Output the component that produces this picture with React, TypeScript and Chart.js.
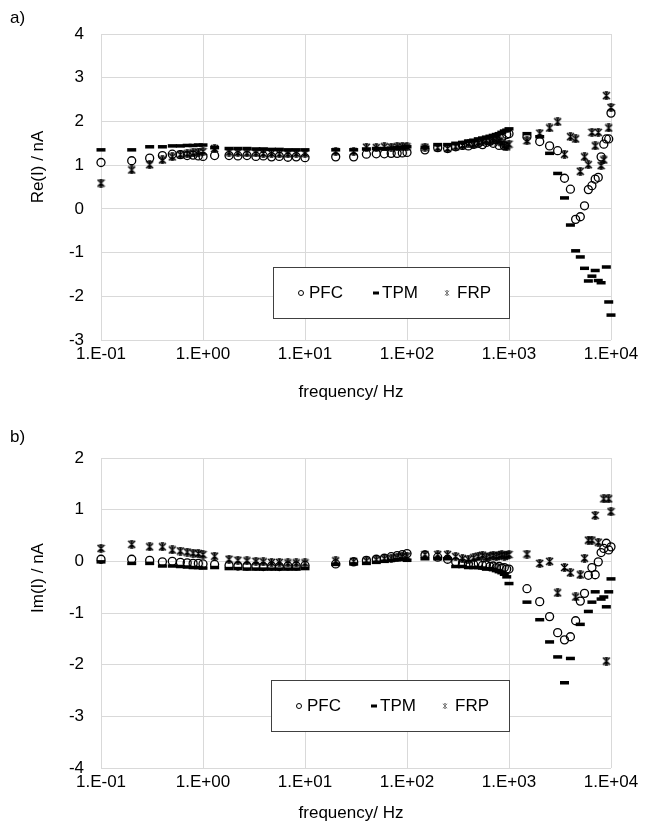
import React, { useEffect, useRef } from "react";
import { Chart, registerables } from "chart.js";
Chart.register(...registerables);

const FONT = "'Liberation Sans', Arial, sans-serif";

// Frequencies (Hz), shared by all series
const freqHz = [
  0.1, 0.2, 0.3, 0.4, 0.5, 0.6, 0.7, 0.8, 0.9, 1,
  1.3, 1.8, 2.2, 2.7, 3.3, 3.9, 4.7, 5.6, 6.8, 8.2, 10,
  20, 30, 40, 50, 60, 70, 80, 90, 100,
  150, 200, 250, 300, 350, 400, 450, 500, 550, 600, 650, 700, 750, 800, 850, 900, 950, 1000,
  1500, 2000, 2500, 3000, 3500, 4000, 4500, 5000, 5500, 6000, 6500, 7000, 7500, 8000, 8500, 9000, 9500, 10000,
];

const xTickValues = [0.1, 1, 10, 100, 1000, 10000];
const seriesNames = ["PFC", "TPM", "FRP"];

// a) Re(I) / nA
const rePFC = [
  1.06, 1.10, 1.16, 1.22, 1.25, 1.24, 1.22, 1.23, 1.21, 1.20,
  1.22, 1.22, 1.21, 1.22, 1.20, 1.21, 1.19, 1.20, 1.18, 1.19, 1.17,
  1.19, 1.19, 1.25, 1.26, 1.26, 1.27, 1.27, 1.28, 1.29,
  1.35, 1.40, 1.38, 1.42, 1.45, 1.44, 1.48, 1.50, 1.47, 1.52, 1.55, 1.50, 1.58, 1.45, 1.62, 1.44, 1.70, 1.72,
  1.65, 1.54, 1.44, 1.33, 0.70, 0.45, -0.24, -0.18, 0.07, 0.44, 0.53, 0.68, 0.72, 1.19, 1.48, 1.60, 1.60, 2.19,
];
const reTPM = [
  1.35, 1.35, 1.42, 1.42, 1.44, 1.44, 1.45, 1.45, 1.46, 1.46,
  1.40, 1.38, 1.38, 1.38, 1.37, 1.37, 1.36, 1.36, 1.35, 1.35, 1.35,
  1.35, 1.35, 1.37, 1.38, 1.38, 1.39, 1.40, 1.41, 1.42,
  1.41, 1.47, 1.47, 1.50, 1.52, 1.55, 1.57, 1.60, 1.62, 1.64, 1.66, 1.68, 1.70, 1.72, 1.75, 1.78, 1.80, 1.83,
  1.72, 1.65, 1.27, 0.81, 0.25, -0.37, -0.96, -1.10, -1.36, -1.65, -1.54, -1.41, -1.64, -1.69, null, -1.33, -2.13, -2.43,
];
const reFRP = [
  0.59, 0.89, 1.01, 1.12, 1.19, 1.24, 1.26, 1.28, 1.30, 1.31,
  1.38, 1.30, 1.29, 1.28, 1.28, 1.27, 1.27, 1.26, 1.26, 1.27, 1.27,
  1.31, 1.31, 1.41, 1.40, 1.42, 1.41, 1.42, 1.42, 1.42,
  1.41, 1.40, 1.38, 1.42, 1.45, 1.50, 1.48, 1.52, 1.55, 1.57, 1.55, 1.58, 1.60, 1.56, 1.52, 1.45, 1.42, 1.48,
  1.56, 1.73, 1.85, 1.99, 1.25, 1.65, 1.60, 0.86, 1.19, 1.01, 1.75, 1.44, 1.75, 0.99, 1.12, 2.59, 1.85, 2.32,
];

// b) Im(I) / nA
const imPFC = [
  0.04, 0.04, 0.02, -0.01, 0.00, -0.02, -0.03, -0.04, -0.04, -0.05,
  -0.06, -0.08, -0.09, -0.09, -0.09, -0.10, -0.09, -0.10, -0.09, -0.09, -0.08,
  -0.05, -0.01, 0.02, 0.04, 0.06, 0.09, 0.11, 0.13, 0.15,
  0.12, 0.08, 0.04, -0.01, -0.03, -0.05, -0.06, -0.04, -0.08, -0.07, -0.10, -0.09, -0.12, -0.10, -0.13, -0.12, -0.15, -0.15,
  -0.53, -0.78, -1.07, -1.38, -1.52, -1.46, -1.15, -0.77, -0.62, -0.27, -0.12, -0.26, -0.01, 0.17, 0.25, 0.35, 0.22, 0.28,
];
const imTPM = [
  -0.01, -0.04, -0.04, -0.09, -0.09, -0.10, -0.11, -0.12, -0.12, -0.13,
  -0.12, -0.14, -0.14, -0.15, -0.15, -0.15, -0.15, -0.15, -0.15, -0.15, -0.14,
  -0.06, -0.05, -0.04, -0.02, 0.00, 0.02, 0.03, 0.04, 0.02,
  0.05, 0.05, 0.05, -0.10, -0.10, -0.12, -0.12, -0.12, -0.13, -0.15, -0.14, -0.16, -0.18, -0.20, -0.22, -0.25, -0.30, -0.43,
  -0.79, -1.13, -1.56, -1.85, -2.35, -1.88, null, -1.22, null, -0.97, -0.79, -0.59, null, -0.73, -0.69, -0.88, -0.59, -0.34,
];
const imFRP = [
  0.25, 0.33, 0.28, 0.28, 0.22, 0.20, 0.18, 0.16, 0.15, 0.13,
  0.10, 0.04, 0.02, 0.01, 0.00, -0.01, -0.02, -0.02, -0.03, -0.03, -0.03,
  0.01, 0.00, 0.01, 0.03, 0.05, 0.06, 0.08, 0.09, 0.10,
  0.13, 0.13, 0.13, 0.09, 0.05, 0.04, 0.07, 0.10, 0.12, 0.08, 0.10, 0.12, 0.09, 0.11, 0.13, 0.10, 0.12, 0.13,
  0.14, -0.04, 0.00, -0.61, -0.12, -0.22, -0.69, -0.26, 0.06, 0.41, 0.41, 0.89, 0.37, null, 1.21, -1.93, 1.21, 0.96,
];

const W = 657;
const H = 417;

function toPoints(vals: (number | null)[]) {
  const out: { x: number; y: number }[] = [];
  freqHz.forEach((f, i) => {
    const v = vals[i];
    if (v !== null && v !== undefined) out.push({ x: f, y: v });
  });
  return out;
}

function fmtSci(v: number) {
  const e = Math.round(Math.log10(v));
  const sign = e < 0 ? "-" : "+";
  return `1.E${sign}${String(Math.abs(e)).padStart(2, "0")}`;
}

function makeStar(size: number, color: string, lw: number) {
  const c = document.createElement("canvas");
  c.width = size;
  c.height = size;
  const g = c.getContext("2d")!;
  g.strokeStyle = color;
  g.lineWidth = lw;
  const a = lw / 2 + 0.3;
  const b = size - a;
  const m = size / 2;
  g.beginPath();
  g.moveTo(a, a);
  g.lineTo(b, b);
  g.moveTo(b, a);
  g.lineTo(a, b);
  g.moveTo(m, 0.2);
  g.lineTo(m, size - 0.2);
  g.moveTo(size * 0.3, a);
  g.lineTo(size * 0.7, a);
  g.moveTo(size * 0.3, b);
  g.lineTo(size * 0.7, b);
  g.stroke();
  return c;
}

type PanelProps = {
  label: string;
  yTitle: string;
  yMin: number;
  yMax: number;
  plotTop: number;
  plotBottom: number;
  values: (number | null)[][];
  legendBox: { x: number; y: number; w: number; h: number };
  yTitleY: number;
  xTitleY: number;
  labelY: number;
};

function Panel(p: PanelProps) {
  const ref = useRef<HTMLCanvasElement | null>(null);
  useEffect(() => {
    const canvas = ref.current!;
    const star = makeStar(9, "#000", 1.4);
    const legendStar = makeStar(6, "#808080", 1);

    const overlay = {
      id: "overlay",
      afterDraw(chart: any) {
        const ctx = chart.ctx as CanvasRenderingContext2D;
        ctx.save();
        // legend
        const b = p.legendBox;
        ctx.fillStyle = "#fff";
        ctx.fillRect(b.x, b.y, b.w, b.h);
        ctx.strokeStyle = "#404040";
        ctx.lineWidth = 1;
        ctx.strokeRect(b.x + 0.5, b.y + 0.5, b.w, b.h);
        const cy = b.y + b.h / 2 + 0.5;
        ctx.font = `17px ${FONT}`;
        ctx.fillStyle = "#000";
        ctx.textBaseline = "middle";
        ctx.textAlign = "left";
        // PFC
        ctx.beginPath();
        ctx.strokeStyle = "#000";
        ctx.lineWidth = 1;
        ctx.arc(b.x + 28, cy, 2.5, 0, Math.PI * 2);
        ctx.stroke();
        ctx.fillText(seriesNames[0], b.x + 36, cy);
        // TPM
        ctx.fillRect(b.x + 100, cy - 1.5, 6, 3);
        ctx.fillText(seriesNames[1], b.x + 109, cy);
        // FRP
        ctx.drawImage(legendStar, b.x + 171, cy - 3);
        ctx.fillText(seriesNames[2], b.x + 184, cy);

        // axis titles
        ctx.font = `17px ${FONT}`;
        ctx.fillStyle = "#000";
        ctx.textAlign = "center";
        ctx.fillText("frequency/ Hz", 351, p.xTitleY);
        ctx.save();
        ctx.translate(38, p.yTitleY);
        ctx.rotate(-Math.PI / 2);
        ctx.fillText(p.yTitle, 0, 0);
        ctx.restore();
        // panel label
        ctx.textAlign = "left";
        ctx.fillText(p.label, 10, p.labelY);
        ctx.restore();
      },
    };

    const common = { clip: false as const, showLine: false };
    const chart = new Chart(canvas, {
      type: "scatter",
      data: {
        datasets: [
          {
            ...common,
            label: seriesNames[0],
            data: toPoints(p.values[0]),
            pointStyle: "circle",
            pointRadius: 4,
            pointBorderWidth: 1.3,
            pointBorderColor: "#000",
            pointBackgroundColor: "rgba(255,255,255,0)",
            order: 3,
          },
          {
            ...common,
            label: seriesNames[1],
            data: toPoints(p.values[1]),
            pointStyle: "line",
            pointRadius: 4.5,
            pointBorderWidth: 3.5,
            pointBorderColor: "#000",
            pointBackgroundColor: "#000",
            order: 2,
          },
          {
            ...common,
            label: seriesNames[2],
            data: toPoints(p.values[2]),
            pointStyle: star as any,
            pointRadius: 4.5,
            pointBorderColor: "#000",
            pointBackgroundColor: "#000",
            order: 1,
          },
        ] as any,
      },
      options: {
        animation: false,
        responsive: false,
        devicePixelRatio: 1,
        events: [],
        layout: { padding: { top: p.plotTop, right: W - 611, left: 0, bottom: 0 } },
        plugins: { legend: { display: false }, tooltip: { enabled: false } },
        scales: {
          x: {
            type: "logarithmic",
            min: 0.1,
            max: 10000,
            afterBuildTicks: (s: any) => {
              s.ticks = xTickValues.map((v) => ({ value: v, major: true }));
            },
            afterFit: (s: any) => {
              s.height = H - p.plotBottom;
            },
            ticks: {
              autoSkip: false,
              maxRotation: 0,
              padding: 4,
              color: "#000",
              font: { family: FONT, size: 17 },
              callback: (v: any) => fmtSci(Number(v)),
            },
            grid: { color: "#d9d9d9", lineWidth: 1, drawTicks: false },
            border: { display: false },
          },
          y: {
            type: "linear",
            min: p.yMin,
            max: p.yMax,
            afterFit: (s: any) => {
              s.width = 101;
            },
            ticks: {
              stepSize: 1,
              padding: 17,
              color: "#000",
              font: { family: FONT, size: 17 },
              callback: (v: any) => String(v),
            },
            grid: { color: "#d9d9d9", lineWidth: 1, drawTicks: false },
            border: { display: false },
          },
        },
      } as any,
      plugins: [overlay],
    });
    return () => chart.destroy();
  }, []);
  return <canvas ref={ref} width={W} height={H} style={{ display: "block", width: W, height: H }} />;
}

export default function App() {
  return (
    <div style={{ position: "absolute", left: 0, top: 0, width: W, height: 834, background: "#fff" }}>
      <Panel
        label="a)"
        yTitle="Re(I) / nA"
        yMin={-3}
        yMax={4}
        plotTop={34}
        plotBottom={340}
        values={[rePFC, reTPM, reFRP]}
        legendBox={{ x: 273, y: 267, w: 236, h: 51 }}
        yTitleY={167}
        xTitleY={392}
        labelY={18}
      />
      <Panel
        label="b)"
        yTitle="Im(I) / nA"
        yMin={-4}
        yMax={2}
        plotTop={41}
        plotBottom={351}
        values={[imPFC, imTPM, imFRP]}
        legendBox={{ x: 271, y: 263, w: 238, h: 51 }}
        yTitleY={161}
        xTitleY={396}
        labelY={20}
      />
    </div>
  );
}
